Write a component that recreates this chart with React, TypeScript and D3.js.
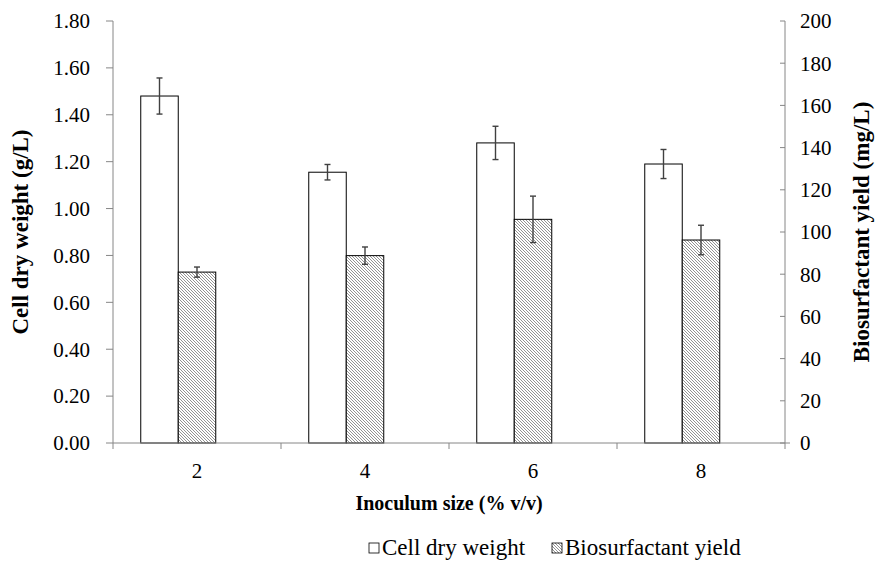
import React from 'react'
import * as d3 from 'd3'

const categories = ['2', '4', '6', '8']
const cellDryWeight = [1.48, 1.155, 1.28, 1.19]
const cellDryWeightErr = [0.077, 0.033, 0.071, 0.062]
const biosurfactant = [81.0, 88.8, 106.0, 96.2]
const biosurfactantErr = [2.4, 4.1, 11.0, 7.0]
const leftTicks = [0, 0.2, 0.4, 0.6, 0.8, 1.0, 1.2, 1.4, 1.6, 1.8]
const rightTicks = [0, 20, 40, 60, 80, 100, 120, 140, 160, 180, 200]

const font = 'Liberation Serif'
const axisColor = '#868686'
const errColor = '#404040'

const W = 881
const H = 582
const left = 113
const right = 785
const top = 21
const bottom = 443

const ErrorBar = ({ x, y1, y2 }) => (
  <g stroke={errColor} strokeWidth={1.4}>
    <line x1={x} x2={x} y1={y1} y2={y2} />
    <line x1={x - 3} x2={x + 3} y1={y1} y2={y1} />
    <line x1={x - 3} x2={x + 3} y1={y2} y2={y2} />
  </g>
)

export default function App() {
  const x0 = d3.scaleBand().domain(categories).range([left, right])
  // third slot stays empty, like the original spreadsheet layout
  const x1 = d3.scaleBand()
    .domain(['cdw', 'bio', 'none'])
    .range([0, x0.bandwidth()])
    .paddingOuter(0.74)
  const yL = d3.scaleLinear().domain([0, 1.8]).range([bottom, top])
  const yR = d3.scaleLinear().domain([0, 200]).range([bottom, top])
  const bw = x1.bandwidth()
  const txt = { fontFamily: font }

  return (
    <svg width={W} height={H} style={{ position: 'absolute', left: 0, top: 0 }}>
      <defs>
        <pattern id="hatch" patternUnits="userSpaceOnUse" width={3} height={3}>
          <rect width={3} height={3} fill="#fff" />
          <path d="M0,0 L3,3 M-1,2 L1,4 M2,-1 L4,1" stroke="#666" strokeWidth={0.7} />
        </pattern>
      </defs>
      <rect width={W} height={H} fill="#fff" />

      {categories.map((c, i) => {
        const bx = x0(c)
        const xa = bx + x1('cdw')
        const xb = bx + x1('bio')
        return (
          <g key={c}>
            <rect x={xa} y={yL(cellDryWeight[i])} width={bw}
              height={bottom - yL(cellDryWeight[i])}
              fill="#fff" stroke="#000" strokeWidth={1} />
            <rect x={xb} y={yR(biosurfactant[i])} width={bw}
              height={bottom - yR(biosurfactant[i])}
              fill="url(#hatch)" stroke="#000" strokeWidth={1} />
            <ErrorBar x={xa + bw / 2}
              y1={yL(cellDryWeight[i] + cellDryWeightErr[i])}
              y2={yL(cellDryWeight[i] - cellDryWeightErr[i])} />
            <ErrorBar x={xb + bw / 2}
              y1={yR(biosurfactant[i] + biosurfactantErr[i])}
              y2={yR(biosurfactant[i] - biosurfactantErr[i])} />
          </g>
        )
      })}

      {/* left axis */}
      <line x1={left} x2={left} y1={top} y2={bottom + 6} stroke={axisColor} />
      {leftTicks.map((t) => (
        <g key={t}>
          <line x1={left - 7} x2={left} y1={yL(t)} y2={yL(t)} stroke={axisColor} />
          <text x={90} y={yL(t)} dy="0.35em" textAnchor="end" fontSize={21} style={txt}>
            {t.toFixed(2)}
          </text>
        </g>
      ))}

      {/* right axis */}
      <line x1={right} x2={right} y1={top} y2={bottom} stroke={axisColor} />
      {rightTicks.map((t) => (
        <g key={t}>
          <line x1={right - 5} x2={right} y1={yR(t)} y2={yR(t)} stroke={axisColor} />
          <text x={800} y={yR(t)} dy="0.35em" textAnchor="start" fontSize={21} style={txt}>
            {t}
          </text>
        </g>
      ))}

      {/* x axis */}
      <line x1={left} x2={right + 5} y1={bottom} y2={bottom} stroke={axisColor} />
      {categories.map((c) => (
        <g key={c}>
          <line x1={x0(c) + x0.bandwidth()} x2={x0(c) + x0.bandwidth()}
            y1={bottom} y2={bottom + 6} stroke={axisColor} />
          <text x={x0(c) + x0.bandwidth() / 2} y={478} textAnchor="middle" fontSize={21} style={txt}>
            {c}
          </text>
        </g>
      ))}

      <text x={(left + right) / 2} y={510} textAnchor="middle" fontSize={20} fontWeight="bold" style={txt}>
        Inoculum size (% v/v)
      </text>
      <text transform={`translate(28,${(top + bottom) / 2}) rotate(-90)`}
        textAnchor="middle" fontSize={23} fontWeight="bold" style={txt}>
        Cell dry weight (g/L)
      </text>
      <text transform={`translate(869,${(top + bottom) / 2}) rotate(-90)`}
        textAnchor="middle" fontSize={23} fontWeight="bold" style={txt}>
        Biosurfactant yield (mg/L)
      </text>

      {/* legend */}
      <g fontSize={23} style={txt}>
        <rect x={369} y={543} width={10} height={10} fill="#fff" stroke="#000" strokeWidth={0.8} />
        <text x={382} y={555}>Cell dry weight</text>
        <rect x={552} y={543} width={10} height={10} fill="url(#hatch)" stroke="#000" strokeWidth={0.8} />
        <text x={565} y={555}>Biosurfactant yield</text>
      </g>
    </svg>
  )
}
